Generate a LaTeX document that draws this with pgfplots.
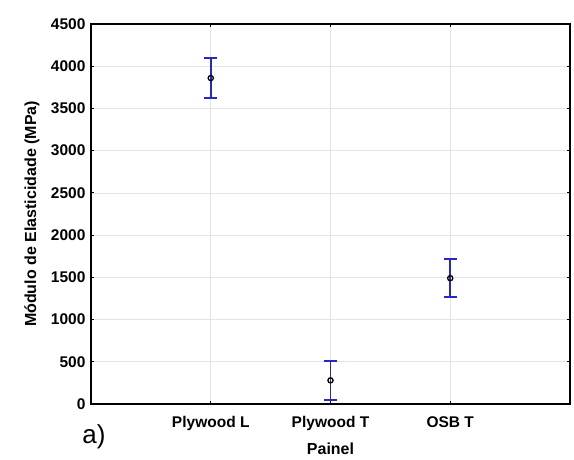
\documentclass[border=0pt]{standalone}
\usepackage{fontspec}
\setmainfont{Liberation Sans}
\usepackage{pgfplots}
\pgfplotsset{compat=1.18}
\definecolor{barblue}{RGB}{40,40,200}
\definecolor{gridgray}{RGB}{228,228,228}
\begin{document}
\begin{tikzpicture}
\begin{axis}[
  scale only axis,
  width=479pt,
  height=380pt,
  xmin=0, xmax=4,
  ymin=0, ymax=4500,
  xtick={1,2,3},
  xticklabels={Plywood L,Plywood T,OSB T},
  ytick distance=500,
  grid=major,
  grid style={gridgray, line width=0.6pt},
  axis line style={line width=1.5pt},
  tick style={black, line width=0.8pt},
  major tick length=3pt,
  /pgf/number format/assume math mode=true,
  /pgf/number format/set thousands separator={},
  tick label style={font=\fontsize{15.5}{18}\selectfont\bfseries},
  xticklabel style={yshift=-9pt},
  yticklabel style={xshift=-2pt},
  xlabel={Painel},
  ylabel={Módulo de Elasticidade (MPa)},
  label style={font=\fontsize{16}{19}\selectfont\bfseries},
  xlabel style={yshift=-5pt},
  ylabel style={at={(axis description cs:-0.1232,0.5)}, anchor=center},
  clip=false,
]
\addplot[
  only marks,
  mark=o,
  mark size=2.6pt,
  mark options={black, line width=1.3pt, fill=white},
  error bars/.cd,
    y dir=both, y explicit,
    error mark=|,
    error bar style={barblue, line width=1.6pt},
    error mark options={barblue, line width=1.6pt, mark size=6.5pt},
] coordinates {
  (1,3860) +- (0,235)
  (2,280)  +- (0,232)
  (3,1490) +- (0,225)
};
\end{axis}
\node[font=\fontsize{26}{30}\selectfont] at (3pt,-33pt) {a)};
\path[use as bounding box] (-91pt,-55pt) rectangle (483pt,404pt);
\end{tikzpicture}
\end{document}
